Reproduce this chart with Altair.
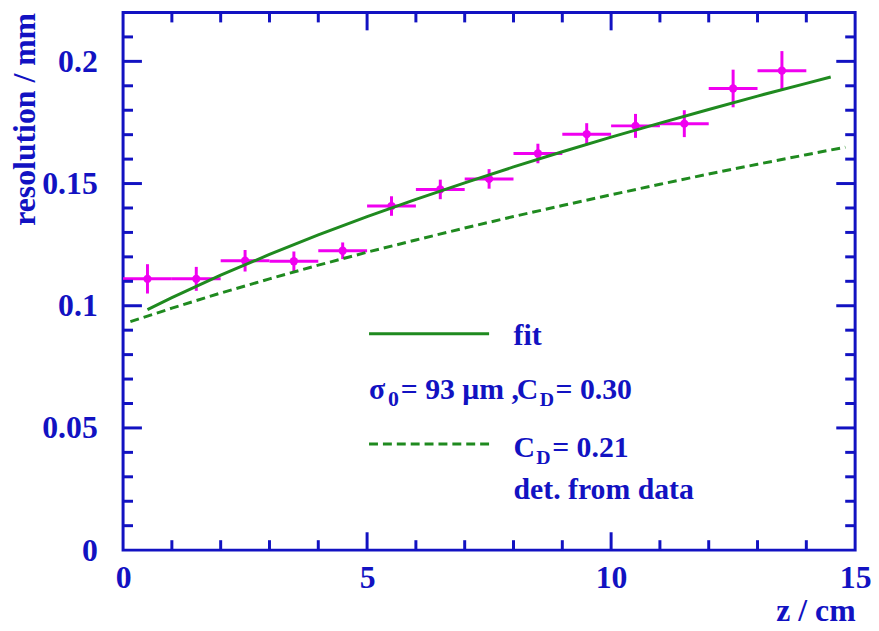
import altair as alt
import pandas as pd

# ---------------- data ----------------
z_bins = [0.5, 1.5, 2.5, 3.5, 4.5, 5.5, 6.5, 7.5, 8.5, 9.5, 10.5, 11.5, 12.5, 13.5]
z_half = [0.5, 0.5, 0.5, 0.5, 0.5, 0.5, 0.5, 0.5, 0.5, 0.5, 0.5, 0.5, 0.5, 0.5]
resolution = [0.1110, 0.1110, 0.1184, 0.1182, 0.1225, 0.1408, 0.1476, 0.1519,
              0.1623, 0.1702, 0.1736, 0.1745, 0.1889, 0.1962]
res_err = [0.0060, 0.0049, 0.0044, 0.0040, 0.0034, 0.0040, 0.0040, 0.0040,
           0.0040, 0.0045, 0.0049, 0.0055, 0.0077, 0.0080]

fit_z = [0.5, 1, 2, 3, 4, 5, 6, 7, 8, 9, 10, 11, 12, 13, 14, 14.5]
fit_res = [0.0984, 0.1033, 0.1125, 0.1210, 0.1290, 0.1365, 0.1435, 0.1503,
           0.1568, 0.1630, 0.1690, 0.1747, 0.1803, 0.1858, 0.1910, 0.1936]

det_z = [0.15, 1, 2, 3, 4, 5, 6, 7, 8, 9, 10, 11, 12, 13, 14, 14.8]
det_res = [0.0935, 0.0990, 0.1052, 0.1110, 0.1166, 0.1219, 0.1269, 0.1318,
           0.1365, 0.1410, 0.1454, 0.1497, 0.1539, 0.1579, 0.1618, 0.1649]

x_labels = [0, 5, 10, 15]
y_labels = [0, 0.05, 0.1, 0.15, 0.2]
x_major = [5, 10]
x_minor = [1, 2, 3, 4, 6, 7, 8, 9, 11, 12, 13, 14]
y_major = [0.05, 0.1, 0.15, 0.2]
y_minor = [0.01, 0.02, 0.03, 0.04, 0.06, 0.07, 0.08, 0.09, 0.11, 0.12,
           0.13, 0.14, 0.16, 0.17, 0.18, 0.19, 0.21]

# legend block anchors (data units)
leg_line_x = [5.04, 7.5]
leg_solid_y = 0.0885
leg_dash_y = 0.0434
leg_text_x = 8.0
leg_fit_y = 0.0840
leg_sigma_y = 0.0617
leg_cd_y = 0.0382
leg_det_y = 0.0211

# ---------------- style ----------------
BLUE = "#1212c2"
MAGENTA = "#f000f0"
GREEN = "#1f8a1f"
FONT = "Liberation Serif"
W, H = 738, 542

xscale = alt.Scale(domain=[0, 15], nice=False, zero=False)
yscale = alt.Scale(domain=[0, 0.22], nice=False, zero=False)

xaxis = alt.Axis(
    title="z / cm", values=x_labels, format="d", ticks=False, tickSize=0,
    domain=False, grid=False, labelFlush=False,
    labelFont=FONT, labelFontSize=32, labelFontWeight="bold", labelColor=BLUE,
    labelPadding=13,
    titleFont=FONT, titleFontSize=32, titleFontWeight="bold", titleColor=BLUE,
    titleAnchor="end", titleAlign="right", titleBaseline="alphabetic", titleY=71,
)
yaxis = alt.Axis(
    title="resolution / mm", values=y_labels, format="~g", ticks=False, tickSize=0,
    domain=False, grid=False, labelFlush=False,
    labelFont=FONT, labelFontSize=32, labelFontWeight="bold", labelColor=BLUE,
    labelPadding=26,
    titleFont=FONT, titleFontSize=32, titleFontWeight="bold", titleColor=BLUE,
    titleAnchor="end", titlePadding=7, titleBaseline="alphabetic",
)


def X(field):
    return alt.X(field, type="quantitative", scale=xscale, axis=xaxis)


def Y(field):
    return alt.Y(field, type="quantitative", scale=yscale, axis=yaxis)


pts = pd.DataFrame({"z": z_bins, "res": resolution, "err": res_err, "hw": z_half})
pts["zlo"] = pts["z"] - pts["hw"]
pts["zhi"] = pts["z"] + pts["hw"]
pts["rlo"] = pts["res"] - pts["err"]
pts["rhi"] = pts["res"] + pts["err"]

base = alt.Chart(pts)
xerr = base.mark_rule(color=MAGENTA, strokeWidth=3).encode(x=X("zlo"), x2="zhi", y=Y("res"))
yerr = base.mark_rule(color=MAGENTA, strokeWidth=3).encode(x=X("z"), y=Y("rlo"), y2="rhi")
dots = base.mark_circle(color=MAGENTA, size=70, opacity=1).encode(x=X("z"), y=Y("res"))

fit = alt.Chart(pd.DataFrame({"z": fit_z, "r": fit_res})).mark_line(
    color=GREEN, strokeWidth=3).encode(x=X("z"), y=Y("r"))
det = alt.Chart(pd.DataFrame({"z": det_z, "r": det_res})).mark_line(
    color=GREEN, strokeWidth=3, strokeDash=[9, 5]).encode(x=X("z"), y=Y("r"))

# ---------------- inward ticks on all four sides ----------------
tick_layers = []
for vals, ln in [(x_major, 18), (x_minor, 10)]:
    df = pd.DataFrame({"v": vals})
    tick_layers.append(alt.Chart(df).mark_rule(color=BLUE, strokeWidth=3).encode(
        x=X("v"), y=alt.value(H), y2=alt.value(H - ln)))
    tick_layers.append(alt.Chart(df).mark_rule(color=BLUE, strokeWidth=3).encode(
        x=X("v"), y=alt.value(0), y2=alt.value(ln)))
for vals, ln in [(y_major, 19), (y_minor, 10)]:
    df = pd.DataFrame({"v": vals})
    tick_layers.append(alt.Chart(df).mark_rule(color=BLUE, strokeWidth=3).encode(
        y=Y("v"), x=alt.value(0), x2=alt.value(ln)))
    tick_layers.append(alt.Chart(df).mark_rule(color=BLUE, strokeWidth=3).encode(
        y=Y("v"), x=alt.value(W), x2=alt.value(W - ln)))

# ---------------- legend inside the plot ----------------
leg_solid = alt.Chart(pd.DataFrame({"x": [leg_line_x[0]], "x2": [leg_line_x[1]], "y": [leg_solid_y]})).mark_rule(
    color=GREEN, strokeWidth=3).encode(x=X("x"), x2="x2", y=Y("y"))
leg_dash = alt.Chart(pd.DataFrame({"x": [leg_line_x[0]], "x2": [leg_line_x[1]], "y": [leg_dash_y]})).mark_rule(
    color=GREEN, strokeWidth=3, strokeDash=[9, 5]).encode(x=X("x"), x2="x2", y=Y("y"))


def txt(text, x, y, dx=0, dy=0, size=30):
    df = pd.DataFrame({"x": [x], "y": [y], "t": [text]})
    return alt.Chart(df).mark_text(
        align="left", baseline="alphabetic", font=FONT, fontWeight="bold",
        fontSize=size, color=BLUE, dx=dx, dy=dy,
    ).encode(x=X("x"), y=Y("y"), text="t:N")


texts = [
    txt("fit", leg_text_x, leg_fit_y),
    txt("σ", leg_line_x[0], leg_sigma_y),
    txt("0", leg_line_x[0], leg_sigma_y, dx=19, dy=7, size=22),
    txt("= 93 μm ,", leg_line_x[0], leg_sigma_y, dx=32),
    txt("C", leg_line_x[0], leg_sigma_y, dx=149),
    txt("D", leg_line_x[0], leg_sigma_y, dx=172, dy=7, size=20),
    txt("= 0.30", leg_line_x[0], leg_sigma_y, dx=188),
    txt("C", leg_text_x, leg_cd_y),
    txt("D", leg_text_x, leg_cd_y, dx=23, dy=7, size=20),
    txt("= 0.21", leg_text_x, leg_cd_y, dx=39),
    txt("det. from data", leg_text_x, leg_det_y),
]

chart = alt.layer(
    xerr, yerr, dots, fit, det, *tick_layers, leg_solid, leg_dash, *texts
).properties(
    width=W, height=H,
    autosize=alt.AutoSizeParams(type="none"),
    padding={"left": 116, "top": 2, "right": 16, "bottom": 77},
).configure_view(stroke=BLUE, strokeWidth=3)

chart.save("out.html", embed_options={"renderer": "svg", "actions": False})
